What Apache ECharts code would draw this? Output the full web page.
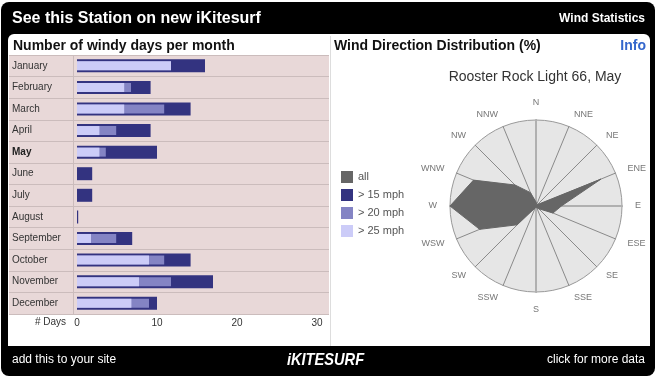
<!DOCTYPE html>
<html>
<head>
<meta charset="utf-8">
<script src="https://cdn.jsdelivr.net/npm/echarts@6/dist/echarts.min.js"></script>
<style>
  html, body { margin: 0; padding: 0; background: #fff; }
  #chart { width: 659px; height: 380px; }
</style>
</head>
<body>
<div id="chart"></div>
<script>
// windy days per month, overlaid bars
var months = ['January', 'February', 'March', 'April', 'May', 'June', 'July', 'August', 'September', 'October', 'November', 'December'];
var over15 = [16.0, 9.2, 14.2, 9.2, 10.0, 1.9, 1.9, 0.15, 6.9, 14.2, 17.0, 10.0];
var over20 = [11.75, 6.75, 10.9, 4.9, 3.6, 0, 0, 0, 4.9, 10.9, 11.75, 9.0];
var over25 = [11.75, 5.9, 5.9, 2.8, 2.8, 0, 0, 0, 1.75, 9.0, 7.75, 6.8];
var dayTicks = [0, 10, 20, 30];
var currentMonth = 'May';

// wind direction distribution (%), compass order
var directions = ['N', 'NNE', 'NE', 'ENE', 'E', 'ESE', 'SE', 'SSE', 'S', 'SSW', 'SW', 'WSW', 'W', 'WNW', 'NW', 'NNW'];
var dirAll = [1, 0.5, 0.5, 18, 6.5, 4.7, 1, 0.5, 0.5, 0.5, 6.8, 15.6, 22, 17.3, 7.6, 3.7];
var dirMax = 22;
var legendNames = ['all', '> 15 mph', '> 20 mph', '> 25 mph'];
var legendColors = ['#666666', '#333380', '#8484c4', '#ccccf8'];

var FONT = '"Liberation Sans", Arial, sans-serif';
var pink = '#e8d8d8';
var rowLine = '#cbbcbc';

// radar goes counter-clockwise from the top
var ccwOrder = [0];
for (var i = directions.length - 1; i > 0; i--) ccwOrder.push(i);
var indicators = ccwOrder.map(function (k) { return { name: directions[k], max: dirMax }; });
var allValues = ccwOrder.map(function (k) { return dirAll[k]; });

function label(text, x, y, font, fill, align) {
    return {
        type: 'text', z: 10, x: x, y: y,
        style: { text: text, font: font, fill: fill, textAlign: align, align: align, textVerticalAlign: 'middle', verticalAlign: 'middle' }
    };
}

var logo = label('iKITESURF', 325.5, 360, 'italic bold 17px ' + FONT, '#fff', 'center');
logo.scaleX = 0.86;

var myChart = echarts.init(document.getElementById('chart'));
var option = {
    animation: false,
    textStyle: { fontFamily: FONT },
    graphic: [
        { type: 'rect', z: -10, shape: { x: 1, y: 2, width: 654, height: 374, r: 8 }, style: { fill: '#000' } },
        { type: 'rect', z: -9, shape: { x: 8, y: 34, width: 642, height: 312, r: [6, 6, 0, 0] }, style: { fill: '#fff' } },
        { type: 'line', z: -8, shape: { x1: 330.5, y1: 36, x2: 330.5, y2: 346 }, style: { stroke: '#dddddd', lineWidth: 1 } },
        { type: 'line', z: 5, shape: { x1: 73.5, y1: 55, x2: 73.5, y2: 314 }, style: { stroke: rowLine, lineWidth: 1 } },
        label('See this Station on new iKitesurf', 12, 19, 'bold 16px ' + FONT, '#fff', 'left'),
        label('Wind Statistics', 645, 19, 'bold 12px ' + FONT, '#fff', 'right'),
        label('Number of windy days per month', 13, 46, 'bold 14px ' + FONT, '#111', 'left'),
        label('Wind Direction Distribution (%)', 334, 46, 'bold 14px ' + FONT, '#111', 'left'),
        label('Info', 646, 46, 'bold 14px ' + FONT, '#3366cc', 'right'),
        label('Rooster Rock Light 66, ' + currentMonth, 535, 77, '14px ' + FONT, '#333', 'center'),
        label('# Days', 66, 322, '10px ' + FONT, '#333', 'right'),
        label('add this to your site', 12, 360, '12px ' + FONT, '#fff', 'left'),
        logo,
        label('click for more data', 645, 360, '12px ' + FONT, '#fff', 'right')
    ],
    grid: [
        { left: 9, top: 55, width: 68, height: 259, show: true, backgroundColor: pink, borderWidth: 0 },
        { left: 77, top: 55, width: 252, height: 259, show: true, backgroundColor: pink, borderWidth: 0 }
    ],
    xAxis: [
        { gridIndex: 0, type: 'value', show: false },
        {
            gridIndex: 1, type: 'value', min: dayTicks[0], max: 31.5, interval: 10,
            axisLine: { show: false }, axisTick: { show: false }, splitLine: { show: false },
            axisLabel: {
                color: '#333', fontSize: 10, margin: 4,
                formatter: function (v) { return dayTicks.indexOf(v) >= 0 ? String(v) : ''; }
            }
        }
    ],
    yAxis: [
        {
            gridIndex: 0, type: 'category', data: months, inverse: true,
            axisLine: { show: false }, axisTick: { show: false },
            splitLine: { show: true, lineStyle: { color: rowLine } },
            axisLabel: {
                inside: true, margin: 3, color: '#333', fontSize: 10,
                formatter: function (v) { return v === currentMonth ? '{b|' + v + '}' : v; },
                rich: { b: { fontWeight: 'bold', color: '#222', fontSize: 10 } }
            }
        },
        {
            gridIndex: 1, type: 'category', data: months, inverse: true,
            axisLine: { show: false }, axisTick: { show: false }, axisLabel: { show: false },
            splitLine: { show: true, lineStyle: { color: rowLine } }
        },
        { gridIndex: 1, type: 'category', data: months, inverse: true, show: false },
        { gridIndex: 1, type: 'category', data: months, inverse: true, show: false }
    ],
    legend: {
        data: legendNames, left: 341, top: 171, orient: 'vertical', padding: 0,
        itemWidth: 12, itemHeight: 12, itemGap: 6, icon: 'rect', selectedMode: false,
        textStyle: { color: '#555', fontSize: 11 }
    },
    radar: [
        {
            center: [536, 206], radius: 86, shape: 'circle', startAngle: 90, splitNumber: 1,
            indicator: indicators, nameGap: 13,
            axisName: { color: '#777', fontSize: 9 },
            splitArea: { show: true, areaStyle: { color: ['#e6e6e6'] } },
            splitLine: { lineStyle: { color: '#999' } },
            axisLine: { lineStyle: { color: '#8a8a8a', width: 1 } }
        },
        {
            center: [536, 206], radius: 86, shape: 'circle', startAngle: 90, splitNumber: 1, z: 3,
            indicator: [{ name: '', max: 1 }, { name: '', max: 1 }, { name: '', max: 1 }, { name: '', max: 1 }],
            axisName: { show: false },
            splitArea: { show: false }, splitLine: { show: false },
            axisLine: { lineStyle: { color: '#b0b0b0', width: 2 } }
        }
    ],
    series: [
        { type: 'bar', name: 'over15', xAxisIndex: 1, yAxisIndex: 1, data: over15, barWidth: 13, itemStyle: { color: legendColors[1] }, silent: true },
        { type: 'bar', name: 'over20', xAxisIndex: 1, yAxisIndex: 2, data: over20, barWidth: 9, itemStyle: { color: legendColors[2] }, silent: true },
        { type: 'bar', name: 'over25', xAxisIndex: 1, yAxisIndex: 3, data: over25, barWidth: 9, itemStyle: { color: legendColors[3] }, silent: true },
        {
            type: 'radar', radarIndex: 0, z: 5, symbol: 'none', silent: true,
            data: [
                { name: legendNames[0], value: allValues, itemStyle: { color: legendColors[0] }, lineStyle: { color: legendColors[0], width: 1 }, areaStyle: { color: legendColors[0], opacity: 1 } },
                { name: legendNames[1], value: [], itemStyle: { color: legendColors[1] }, lineStyle: { opacity: 0 } },
                { name: legendNames[2], value: [], itemStyle: { color: legendColors[2] }, lineStyle: { opacity: 0 } },
                { name: legendNames[3], value: [], itemStyle: { color: legendColors[3] }, lineStyle: { opacity: 0 } }
            ]
        }
    ]
};
myChart.setOption(option);
</script>
</body>
</html>
